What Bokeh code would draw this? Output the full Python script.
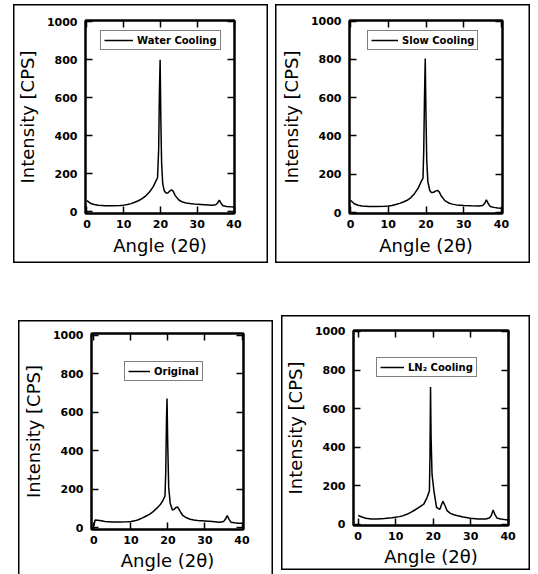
from bokeh.plotting import figure
from bokeh.models import LinearAxis, Legend, LegendItem, Spacer, FixedTicker, Range1d
from bokeh.layouts import row, column
from bokeh.embed import file_html
from bokeh.resources import INLINE

# ---------------- data ----------------
angle_water = [0, 0.5, 1, 2, 3, 5, 7, 9, 10, 11, 12, 13, 14, 15, 16, 17, 18, 18.8, 19.2, 19.5,
               19.7, 19.9, 20.1, 20.3, 20.6, 21, 21.5, 22, 22.5, 23, 23.5, 24, 25, 26, 27,
               28, 30, 32, 34, 35, 35.5, 36, 36.5, 37, 38, 39, 40]
cps_water = [60, 52, 45, 39, 35, 33, 33, 34, 36, 39, 44, 51, 59, 70, 85, 105, 132, 165, 180, 330,
             620, 800, 480, 260, 150, 112, 100, 100, 110, 116, 108, 86, 63, 52, 47,
             44, 40, 38, 36, 38, 46, 62, 45, 33, 29, 27, 26]

angle_slow = [0, 0.5, 1, 2, 3, 5, 7, 9, 10, 11, 12, 13, 14, 15, 16, 17, 18, 18.8, 19.2, 19.4,
              19.6, 19.8, 20.0, 20.2, 20.5, 21, 21.5, 22, 22.5, 23, 23.5, 24, 25, 26, 27,
              28, 30, 32, 34, 35, 35.5, 36, 36.5, 37, 38, 39, 40]
cps_slow = [64, 55, 46, 38, 34, 32, 32, 33, 34, 37, 42, 48, 55, 64, 78, 100, 130, 165, 178, 320,
            600, 805, 500, 270, 160, 115, 104, 106, 112, 116, 108, 88, 62, 50, 44,
            40, 37, 35, 34, 37, 47, 66, 46, 32, 27, 24, 22]

angle_orig = [0, 0.3, 1, 2, 3, 5, 7, 9, 10, 11, 12, 13, 14, 15, 16, 17, 18, 18.8, 19.2, 19.4,
              19.6, 19.75, 19.95, 20.2, 20.6, 21.2, 21.7, 22.2, 22.6, 23, 23.5, 24, 25, 26, 27,
              28, 30, 32, 34, 35, 35.5, 36, 36.5, 37, 38, 39, 40]
cps_orig = [10, 40, 39, 36, 33, 30, 30, 31, 33, 36, 42, 50, 60, 70, 84, 102, 122, 148, 165, 290,
            560, 672, 420, 210, 128, 92, 96, 106, 108, 96, 78, 64, 52, 44, 40,
            38, 35, 32, 29, 32, 44, 63, 44, 29, 26, 24, 23]

angle_ln2 = [0, 0.5, 1, 2, 3.5, 5, 7, 9, 10, 11, 12, 13, 14, 15, 16, 17, 17.5, 18.4, 19.0, 19.15,
             19.3, 19.45, 19.7, 20.2, 20.9, 21.4, 21.8, 22.2, 22.6, 23.1, 23.7, 24.5, 25.5, 26.3,
             28, 30, 32, 34, 35, 35.5, 36, 36.5, 37, 38, 39, 40]
cps_ln2 = [46, 42, 38, 32, 28, 28, 30, 34, 37, 40, 45, 52, 62, 73, 85, 98, 105, 140, 174, 350,
           712, 450, 260, 174, 88, 82, 78, 100, 120, 100, 71, 58, 50, 46,
           38, 32, 28, 28, 33, 45, 74, 50, 33, 28, 25, 23]

x_ticks = [0, 10, 20, 30, 40]
y_ticks = [0, 200, 400, 600, 800, 1000]
x_title = "Angle (2θ)"
y_title = "Intensity [CPS]"
series_labels = ["Water Cooling", "Slow Cooling", "Original", "LN₂ Cooling"]

FONT = "DejaVu Sans"


def style_axis(ax, ticks, show_labels=True):
    ax.ticker = FixedTicker(ticks=ticks)
    ax.axis_line_color = "black"
    ax.axis_line_width = 2
    ax.major_tick_line_color = "black"
    ax.major_tick_line_width = 1.5
    ax.major_tick_in = 7
    ax.major_tick_out = 0
    ax.minor_tick_line_color = None
    if show_labels:
        ax.major_label_text_font = FONT
        ax.major_label_text_font_style = "bold"
        ax.major_label_text_font_size = "11px"
        ax.major_label_text_color = "black"
        ax.axis_label_text_font = FONT
        ax.axis_label_text_font_style = "normal"
        ax.axis_label_text_font_size = "18px"
        ax.axis_label_text_color = "black"
    else:
        ax.major_label_text_font_size = "0px"
        ax.major_label_text_color = None
        ax.major_label_standoff = 0


def panel(x, y, label, w, h, bl, br, bt, bb, xr, yr, leg_loc, glyph_w, xlab_standoff, shadow):
    p = figure(width=w, height=h, output_backend="svg", toolbar_location=None,
               x_range=Range1d(*xr), y_range=Range1d(*yr),
               min_border_left=bl, min_border_right=br,
               min_border_top=bt, min_border_bottom=bb,
               x_axis_label=x_title, y_axis_label=y_title)
    p.border_fill_color = None
    p.background_fill_color = "white"
    p.outline_line_color = "black"
    p.outline_line_width = 2
    p.grid.visible = False
    p.styles = {"box-shadow": shadow}

    r = p.line(x, y, line_color="black", line_width=1.5)

    style_axis(p.xaxis[0], x_ticks)
    p.xaxis[0].major_label_standoff = 6
    p.xaxis[0].axis_label_standoff = xlab_standoff
    style_axis(p.yaxis[0], y_ticks)
    p.yaxis[0].major_label_standoff = 8
    p.yaxis[0].axis_label_standoff = 6

    top = LinearAxis()
    style_axis(top, x_ticks, show_labels=False)
    p.add_layout(top, "above")
    right = LinearAxis()
    style_axis(right, y_ticks, show_labels=False)
    p.add_layout(right, "right")

    leg = Legend(items=[LegendItem(label=label, renderers=[r])], location=leg_loc)
    leg.border_line_color = "black"
    leg.border_line_width = 1.5
    leg.background_fill_color = "white"
    leg.background_fill_alpha = 1
    leg.label_text_font = FONT
    leg.label_text_font_style = "bold"
    leg.label_text_font_size = "10px"
    leg.label_text_color = "black"
    leg.padding = 3
    leg.spacing = 0
    leg.margin = 0
    leg.glyph_width = glyph_w
    leg.glyph_height = 12
    leg.label_height = 12
    leg.label_width = 10
    leg.label_standoff = 4
    p.add_layout(leg)
    return p


full_box = "inset 0 0 0 1.5px black"
open_bottom = "inset 1.5px 1.5px 0 0 black, inset -1.5px 0 0 0 black"

p1 = panel(angle_water, cps_water, series_labels[0], 255, 259, 69, 34, 16, 48,
           (-0.4, 40.13), (-8, 1007), (15, 163), 29, 4, full_box)
p2 = panel(angle_slow, cps_slow, series_labels[1], 255, 259, 74, 28, 15, 50,
           (-0.26, 40.26), (-5, 1003), (18, 163), 27, 4, full_box)
p3 = panel(angle_orig, cps_orig, series_labels[2], 255, 254, 73, 30, 13, 45,
           (-0.65, 40.4), (-9, 1010), (33, 148), 22, 3, open_bottom)
p4 = panel(angle_ln2, cps_ln2, series_labels[3], 249, 255, 71, 22, 15, 45,
           (-1.25, 40.1), (-6, 1005), (23, 148), 24, 3, full_box)

layout = column(
    Spacer(width=530, height=4),
    row(Spacer(width=13, height=259), p1, Spacer(width=7, height=259), p2),
    Spacer(width=530, height=52),
    row(Spacer(width=18, height=259), column(Spacer(width=255, height=5), p3),
        Spacer(width=8, height=259), p4),
)

open("out.html", "w").write(file_html(layout, INLINE))
